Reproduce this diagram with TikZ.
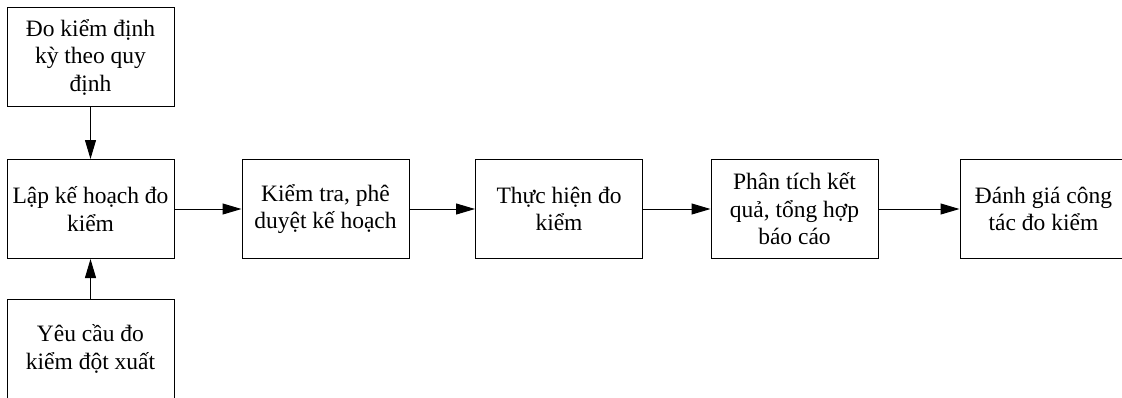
\documentclass[tikz,border=0pt]{standalone}
\usepackage{fontspec}
\setmainfont{Liberation Serif}
\usetikzlibrary{arrows.meta}
\begin{document}
\begin{tikzpicture}[x=1pt,y=-1pt,
  box/.style={draw=black,line width=1pt,minimum width=167pt,minimum height=99pt,inner sep=0pt,align=center,
    font=\rmfamily\fontsize{23.5}{27.5}\selectfont},
  conn/.style={line width=1pt,-{Triangle[length=19pt,width=11pt]}}]
\useasboundingbox (0,0) rectangle (1122,397);
\clip (0,0) rectangle (1122,397);
\fill[white] (0,0) rectangle (1122,397);
\node[box] (a) at (90.5,57) {Đo kiểm định\\kỳ theo quy\\định};
\node[box] (b) at (90.5,209) {Lập kế hoạch đo\\kiểm};
\node[box] (c) at (90.5,349) {Yêu cầu đo\\kiểm đột xuất};
\node[box] (d) at (325.5,209) {Kiểm tra, phê\\duyệt kế hoạch};
\node[box] (e) at (559,209) {Thực hiện đo\\kiểm};
\node[box] (f) at (794.5,209) {Phân tích kết\\quả, tổng hợp\\báo cáo};
\node[box] (g) at (1043.5,209) {Đánh giá công\\tác đo kiểm};
\draw[conn] (a) -- (b);
\draw[conn] (c) -- (b);
\draw[conn] (b) -- (d);
\draw[conn] (d) -- (e);
\draw[conn] (e) -- (f);
\draw[conn] (f) -- (g);
\end{tikzpicture}
\end{document}
